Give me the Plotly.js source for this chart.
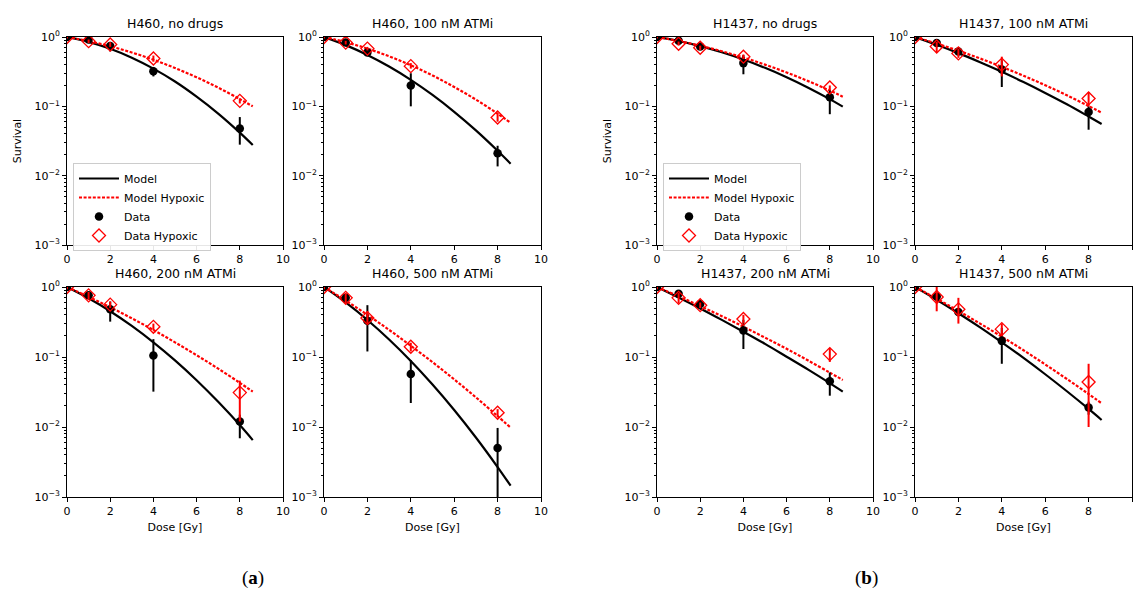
<!DOCTYPE html>
<html>
<head>
<meta charset="utf-8">
<script src="https://cdn.plot.ly/plotly-3.0.1.min.js"></script>
<style>html,body{margin:0;padding:0;background:#fff;}#chart{width:1137px;height:592px;}</style>
</head>
<body>
<div id="chart"></div>
<script>
// ---------- data ----------
const panelTitles = ["H460, no drugs", "H460, 100 nM ATMi", "H460, 200 nM ATMi", "H460, 500 nM ATMi",
                     "H1437, no drugs", "H1437, 100 nM ATMi", "H1437, 200 nM ATMi", "H1437, 500 nM ATMi"];
const groupLabels = ["(<b>a</b>)", "(<b>b</b>)"];
const doses = [0, 1, 2, 4, 8];
const modelDose = [0, 1, 2, 3, 4, 5, 6, 7, 8, 8.6];

// normoxic data (mean, lower, upper) per panel
const dataSurv = [
  [1.0, 0.92, 0.74, 0.32, 0.048],
  [1.0, 0.83, 0.60, 0.20, 0.021],
  [1.0, 0.76, 0.48, 0.105, 0.012],
  [1.0, 0.70, 0.33, 0.057, 0.005],
  [1.0, 0.88, 0.73, 0.42, 0.135],
  [1.0, 0.82, 0.62, 0.34, 0.083],
  [1.0, 0.80, 0.57, 0.24, 0.045],
  [1.0, 0.73, 0.44, 0.17, 0.019]
];
const dataLow = [
  [0.95, 0.85, 0.62, 0.27, 0.028],
  [0.95, 0.78, 0.55, 0.10, 0.0136],
  [0.95, 0.70, 0.32, 0.032, 0.0069],
  [0.95, 0.62, 0.12, 0.022, 0.0008],
  [0.95, 0.80, 0.67, 0.29, 0.077],
  [0.95, 0.75, 0.56, 0.19, 0.046],
  [0.95, 0.72, 0.52, 0.13, 0.028],
  [0.95, 0.60, 0.38, 0.08, 0.015]
];
const dataHigh = [
  [1.05, 1.0, 0.85, 0.37, 0.07],
  [1.05, 0.90, 0.65, 0.30, 0.027],
  [1.05, 0.82, 0.62, 0.18, 0.015],
  [1.05, 0.78, 0.55, 0.09, 0.0097],
  [1.05, 0.95, 0.79, 0.55, 0.17],
  [1.05, 0.90, 0.70, 0.46, 0.10],
  [1.05, 0.88, 0.63, 0.34, 0.06],
  [1.05, 0.80, 0.50, 0.26, 0.023]
];
// hypoxic data
const hypSurv = [
  [1.0, 0.87, 0.78, 0.49, 0.12],
  [1.0, 0.83, 0.68, 0.38, 0.069],
  [1.0, 0.76, 0.56, 0.27, 0.031],
  [1.0, 0.70, 0.36, 0.14, 0.016],
  [1.0, 0.80, 0.70, 0.52, 0.187],
  [1.0, 0.73, 0.58, 0.40, 0.13],
  [1.0, 0.70, 0.55, 0.35, 0.11],
  [1.0, 0.72, 0.48, 0.25, 0.044]
];
const hypLow = [
  [0.95, 0.82, 0.72, 0.44, 0.11],
  [0.95, 0.78, 0.64, 0.35, 0.06],
  [0.93, 0.65, 0.50, 0.24, 0.012],
  [0.93, 0.58, 0.30, 0.12, 0.014],
  [0.95, 0.75, 0.65, 0.48, 0.17],
  [0.95, 0.60, 0.50, 0.27, 0.10],
  [0.93, 0.58, 0.50, 0.30, 0.085],
  [0.93, 0.45, 0.30, 0.20, 0.01]
];
const hypHigh = [
  [1.05, 0.92, 0.84, 0.54, 0.13],
  [1.05, 0.88, 0.72, 0.42, 0.08],
  [1.07, 0.85, 0.62, 0.30, 0.046],
  [1.07, 0.82, 0.45, 0.16, 0.018],
  [1.05, 0.86, 0.75, 0.56, 0.20],
  [1.05, 0.85, 0.68, 0.52, 0.16],
  [1.07, 0.82, 0.60, 0.40, 0.135],
  [1.07, 1.0, 0.70, 0.30, 0.08]
];
// model curves sampled at modelDose
const modelSurv = [
  [1, 0.851, 0.677, 0.503, 0.350, 0.228, 0.138, 0.0787, 0.0418, 0.0277],
  [1, 0.764, 0.551, 0.375, 0.241, 0.146, 0.0834, 0.045, 0.0229, 0.0149],
  [1, 0.690, 0.451, 0.278, 0.162, 0.0894, 0.0466, 0.0229, 0.01066, 0.0065],
  [1, 0.601, 0.338, 0.178, 0.0877, 0.0404, 0.0175, 0.00708, 0.00268, 0.00145],
  [1, 0.875, 0.738, 0.602, 0.473, 0.359, 0.263, 0.186, 0.127, 0.099],
  [1, 0.772, 0.585, 0.433, 0.315, 0.224, 0.156, 0.107, 0.0714, 0.0557],
  [1, 0.707, 0.494, 0.339, 0.230, 0.154, 0.101, 0.066, 0.0423, 0.032],
  [1, 0.657, 0.422, 0.265, 0.162, 0.097, 0.0567, 0.0324, 0.0181, 0.0126]
];
const modelHyp = [
  [1, 0.872, 0.734, 0.598, 0.470, 0.357, 0.262, 0.186, 0.127, 0.100],
  [1, 0.842, 0.680, 0.527, 0.391, 0.279, 0.190, 0.125, 0.0784, 0.058],
  [1, 0.724, 0.514, 0.357, 0.243, 0.162, 0.106, 0.0682, 0.0428, 0.032],
  [1, 0.640, 0.400, 0.244, 0.145, 0.0844, 0.0479, 0.0265, 0.0143, 0.0098],
  [1, 0.876, 0.749, 0.623, 0.505, 0.400, 0.308, 0.231, 0.169, 0.138],
  [1, 0.804, 0.634, 0.490, 0.371, 0.276, 0.202, 0.144, 0.101, 0.081],
  [1, 0.735, 0.534, 0.383, 0.271, 0.189, 0.131, 0.089, 0.0598, 0.047],
  [1, 0.680, 0.456, 0.300, 0.195, 0.125, 0.0783, 0.0485, 0.0296, 0.0218]
];
const yTickVals = [0.001, 0.01, 0.1, 1];
const yTickText = ["10<sup>−3</sup>", "10<sup>−2</sup>", "10<sup>−1</sup>", "10<sup>0</sup>"];

// ---------- layout geometry ----------
const W = 1137, H = 592;
const colPx = [[67, 283], [324, 541], [657, 873], [915, 1132]];
const rowPx = [[37, 245], [287, 497]];
// panel -> [col,row]
const panelPos = [[0,0],[1,0],[0,1],[1,1],[2,0],[3,0],[2,1],[3,1]];
const FONT = "DejaVu Sans, sans-serif";

const minorVals = [];
[0.001, 0.01, 0.1].forEach(d => { for (let k = 2; k <= 9; k++) minorVals.push(d * k); });

const traces = [];
const legendStyle = {
  xanchor: "left", yanchor: "top",
  bgcolor: "rgba(255,255,255,0.9)", bordercolor: "#cccccc", borderwidth: 1,
  font: {family: FONT, size: 11}, tracegroupgap: 0, itemwidth: 40
};
const layout = {
  width: W, height: H,
  margin: {l: 0, r: 0, t: 0, b: 0},
  paper_bgcolor: "#fff", plot_bgcolor: "#fff",
  font: {family: FONT, size: 11, color: "#000"},
  showlegend: true,
  annotations: [],
  legend: Object.assign({x: 73 / W, y: 1 - 163 / H}, legendStyle),
  legend2: Object.assign({x: 663 / W, y: 1 - 163 / H}, legendStyle)
};

function errs(v, lo, hi) {
  return {
    type: "data", symmetric: false,
    array: v.map((y, i) => hi[i] - y),
    arrayminus: v.map((y, i) => y - lo[i])
  };
}

for (let p = 0; p < 8; p++) {
  const [c, r] = panelPos[p];
  const suffix = p === 0 ? "" : String(p + 1);
  const xa = "x" + suffix, ya = "y" + suffix;
  const xd = [colPx[c][0] / W, colPx[c][1] / W];
  const yd = [1 - rowPx[r][1] / H, 1 - rowPx[r][0] / H];
  const legendRef = p === 0 ? "legend" : (p === 4 ? "legend2" : null);
  const showLeg = legendRef !== null;

  layout["xaxis" + suffix] = {
    domain: xd, anchor: ya, range: [0, 10], dtick: 2, tick0: 0,
    showline: true, mirror: true, linecolor: "#000", linewidth: 1,
    ticks: "outside", ticklen: 4, tickcolor: "#000", showgrid: false, zeroline: false,
    tickfont: {family: FONT, size: 11, color: "#000"},
    title: r === 1 ? {text: "Dose [Gy]", font: {family: FONT, size: 11}, standoff: 6} : {text: ""}
  };
  layout["yaxis" + suffix] = {
    domain: yd, anchor: xa, type: "log", range: [-3, 0],
    tickvals: yTickVals, ticktext: yTickText,
    showline: true, mirror: true, linecolor: "#000", linewidth: 1,
    ticks: "outside", ticklen: 4, tickcolor: "#000", showgrid: false, zeroline: false,
    minor: {tickvals: minorVals, ticks: "outside", ticklen: 2, tickcolor: "#000", showgrid: false},
    tickfont: {family: FONT, size: 11, color: "#000"},
    title: (r === 0 && (c === 0 || c === 2)) ? {text: "Survival", font: {family: FONT, size: 11}, standoff: 10} : {text: ""}
  };
  layout.annotations.push({
    xref: "paper", yref: "paper", x: (xd[0] + xd[1]) / 2, y: yd[1],
    xanchor: "center", yanchor: "bottom", yshift: 4, showarrow: false,
    text: panelTitles[p], font: {family: FONT, size: 12.5, color: "#000"}
  });

  const common = {xaxis: xa, yaxis: ya, showlegend: showLeg, hoverinfo: "skip"};
  if (showLeg) common.legend = legendRef;

  traces.push(Object.assign({}, common, {
    type: "scatter", mode: "lines", name: "Model",
    x: modelDose, y: modelSurv[p], line: {color: "#000", width: 2.2, shape: "spline"}
  }));
  traces.push(Object.assign({}, common, {
    type: "scatter", mode: "lines", name: "Model Hypoxic",
    x: modelDose, y: modelHyp[p], line: {color: "#ff0000", width: 2.2, dash: "3px,1.6px", shape: "spline"}
  }));
  traces.push(Object.assign({}, common, {
    type: "scatter", mode: "markers", name: "Data",
    x: doses, y: dataSurv[p],
    marker: {symbol: "circle", size: 8.5, color: "#000"},
    error_y: Object.assign(errs(dataSurv[p], dataLow[p], dataHigh[p]), {color: "#000", thickness: 2, width: 0})
  }));
  traces.push(Object.assign({}, common, {
    type: "scatter", mode: "markers", name: "Data Hypoxic",
    x: doses, y: hypSurv[p],
    marker: {symbol: "diamond-open", size: 10, color: "#ff0000", line: {width: 1.3, color: "#ff0000"}},
    error_y: Object.assign(errs(hypSurv[p], hypLow[p], hypHigh[p]), {color: "#ff0000", thickness: 2, width: 0})
  }));
}

layout.annotations.push({
  xref: "paper", yref: "paper", x: 253 / W, y: 1 - 578 / H, xanchor: "center", yanchor: "middle",
  showarrow: false, text: groupLabels[0], font: {family: "Liberation Serif, DejaVu Serif, serif", size: 19, color: "#000"}
});
layout.annotations.push({
  xref: "paper", yref: "paper", x: 866 / W, y: 1 - 578 / H, xanchor: "center", yanchor: "middle",
  showarrow: false, text: groupLabels[1], font: {family: "Liberation Serif, DejaVu Serif, serif", size: 19, color: "#000"}
});

Plotly.newPlot("chart", traces, layout, {staticPlot: true, displayModeBar: false});
</script>
</body>
</html>
